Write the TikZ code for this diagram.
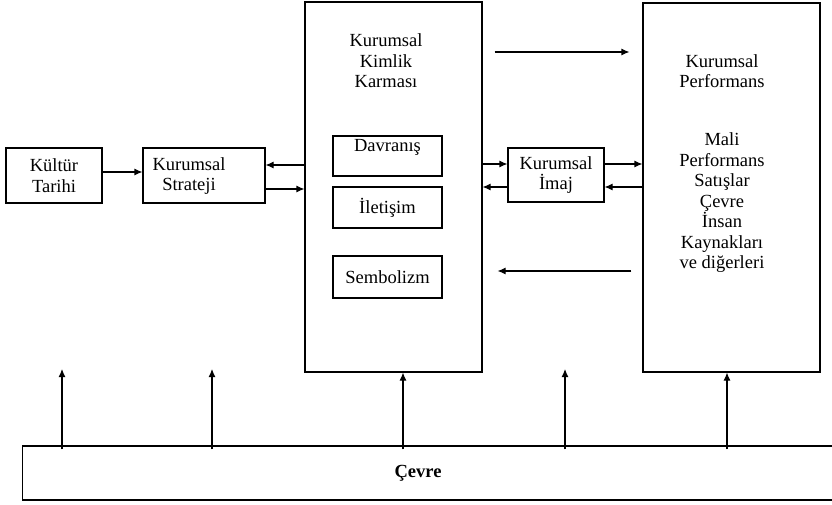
\documentclass[tikz,border=0pt]{standalone}
\usepackage{fontspec}
\setmainfont{Liberation Serif}
\usepackage{tikz}
\usetikzlibrary{arrows.meta,positioning}

\begin{document}
\begin{tikzpicture}[x=1pt, y=-1pt, >={Latex[length=8pt,width=7pt]},
  box/.style={draw, line width=1.1pt, inner sep=0pt},
  txt/.style={align=center, font=\fontsize{18.5}{20.5}\selectfont, inner sep=0pt},
  flow/.style={->, line width=1.1pt}]
  \useasboundingbox (0,0) rectangle (832,504);
  \node[box, txt, minimum width=96pt, minimum height=55pt] (kultur) at (54,175.5) {Kültür\\Tarihi};
  \node[box, minimum width=122pt, minimum height=55pt] (strat) at (204,175.5) {};
  \node[txt] (strattxt) at (189,176) {Kurumsal\\Strateji};
  \node[box, minimum width=177pt, minimum height=370pt] (kkk) at (393.5,187) {};
  \node[txt] (kkktxt) at (386,61) {Kurumsal\\Kimlik\\Karması};
  \node[box, minimum width=109pt, minimum height=40pt] (davr) at (387.5,156) {};
  \node[txt, below=4pt of davr.north] (davrtxt) {Davranış};
  \node[box, txt, minimum width=109pt, minimum height=41pt] (ilet) at (387.5,207.5) {İletişim};
  \node[box, txt, minimum width=109pt, minimum height=42pt] (semb) at (387.5,277) {Sembolizm};
  \node[box, txt, minimum width=96pt, minimum height=54pt] (imaj) at (556,175) {Kurumsal\\İmaj};
  \node[box, minimum width=177pt, minimum height=369pt] (perf) at (731.5,187.5) {};
  \node[txt] (perftitle) at (722,71) {Kurumsal\\Performans};
  \node[txt] (perflist) at (722,203) {Mali\\Performans\\Satışlar\\Çevre\\İnsan\\Kaynakları\\ve diğerleri};
  \node[box, minimum width=810pt, minimum height=54pt, anchor=west] (cevre) at (22,473) {};
  \node[txt, font=\fontsize{18.5}{20.5}\selectfont\bfseries] (cevretxt) at (418,473) {Çevre};

  \draw[flow] (kultur.east |- 0,172) -- (strat.west |- 0,172);
  \draw[flow] (kkk.west |- 0,165) -- (strat.east |- 0,165);
  \draw[flow] (strat.east |- 0,189) -- (kkk.west |- 0,189);
  \draw[flow] (kkk.east |- 0,164) -- (imaj.west |- 0,164);
  \draw[flow] (imaj.west |- 0,187) -- (kkk.east |- 0,187);
  \draw[flow] (imaj.east |- 0,164) -- (perf.west |- 0,164);
  \draw[flow] (perf.west |- 0,187) -- (imaj.east |- 0,187);
  \draw[flow] ([xshift=12pt]kkk.east |- 0,52) -- ([xshift=-13pt]perf.west |- 0,52);
  \draw[flow] ([xshift=-11pt]perf.west |- 0,271) -- ([xshift=15pt]kkk.east |- 0,271);

  \foreach \ax in {62,212,565} {
    \coordinate (tip\ax) at (\ax,369);
    \draw[flow] ([yshift=-4pt]cevre.north -| tip\ax) -- (tip\ax);
  }
  \draw[flow] ([yshift=-4pt]cevre.north -| 403,0) -- (403,0 |- kkk.south);
  \draw[flow] ([yshift=-4pt]cevre.north -| 727,0) -- (727,0 |- perf.south);
\end{tikzpicture}
\end{document}
